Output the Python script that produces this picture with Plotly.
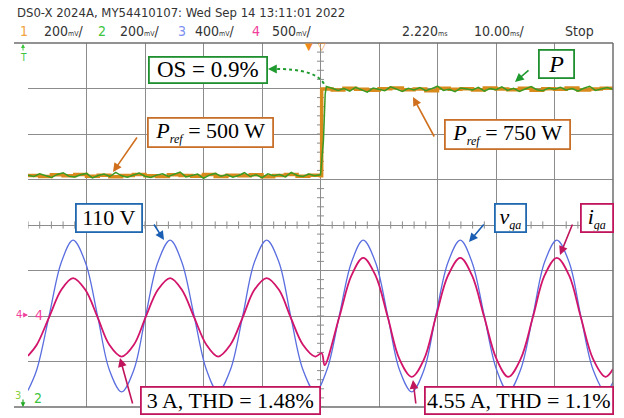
import plotly.graph_objects as go

# ---------------- data (scope capture, time in ms) ----------------
# reference power P_ref (W)
t_ref = [0, 2, 4, 6, 8, 10, 12, 14, 16, 18, 20, 22, 24, 26, 28, 30, 32, 34, 36, 38, 40, 42, 44, 46, 48, 50,
         50.2, 52, 54, 56, 58, 60, 62, 64, 66, 68, 70, 72, 74, 76, 78, 80, 82, 84, 86, 88, 90, 92, 94, 96, 98, 100]
p_ref = [500, 497, 502, 499, 503, 498, 501, 496, 500, 503, 499, 497, 502, 500, 498, 503, 497, 501, 499, 502, 496, 500, 503, 498, 501, 499,
         750, 747, 752, 749, 746, 751, 753, 748, 750, 745, 752, 749, 751, 747, 753, 750, 748, 752, 746, 751, 749, 753, 747, 750, 752, 749]

# measured power P (W)
t_meas = list(range(0, 51)) + [50.5, 50.8] + list(range(51, 101))
p_meas = [501, 497, 505, 499, 494, 503, 508, 498, 496, 502,
          506, 493, 500, 504, 497, 509, 499, 495, 502, 507,
          498, 494, 501, 505, 497, 503, 510, 496, 499, 504,
          492, 501, 506, 498, 503, 495, 500, 508, 497, 502,
          494, 505, 499, 503, 496, 509, 500, 497, 504, 499,
          502,
          600, 735,
          757, 752, 746, 751, 744, 755, 749, 741, 753, 748,
          745, 756, 750, 743, 752, 747, 754, 745, 751, 758,
          746, 749, 742, 753, 750, 747, 755, 744, 751, 748,
          756, 746, 752, 743, 750, 757, 748, 745, 753, 749,
          755, 747, 751, 744, 752, 758, 746, 750, 754, 749]

# grid voltage v_ga (V)
t_v = [0, 1.5, 3.6, 5.7, 7.7, 9.8, 11.9, 13.9, 16.0, 18.1, 20.1, 22.2, 24.3, 26.3, 28.4, 30.5, 32.5, 34.6,
       36.7, 38.7, 40.8, 42.9, 44.9, 47.0, 49.1, 51.1, 53.2, 55.3, 57.3, 59.4, 61.5, 63.5, 65.6, 67.7, 69.7,
       71.8, 73.9, 75.9, 78.0, 80.1, 82.1, 84.2, 86.3, 88.3, 90.4, 92.5, 94.5, 96.6, 98.7, 100]
v_ga = [-108, -78, 0, 78, 110, 78, 0, -78, -110, -78, 0, 78, 110, 78, 0, -78, -110, -78,
        0, 78, 110, 78, 0, -78, -110, -78, 0, 78, 110, 78, 0, -78, -110, -78, 0,
        78, 110, 78, 0, -78, -110, -78, 0, 78, 110, 78, 0, -78, -110, -96]

# grid current i_ga (A)
t_i = [0, 1.5, 3.6, 5.7, 7.7, 9.8, 11.9, 13.9, 16.0, 18.1, 20.1, 22.2, 24.3, 26.3, 28.4, 30.5, 32.5, 34.6,
       36.7, 38.7, 40.8, 42.9, 44.9, 47.0, 49.1, 50.2, 50.7, 53.2, 55.3, 57.3, 59.4, 61.5, 63.5, 65.6, 67.7, 69.7,
       71.8, 73.9, 75.9, 78.0, 80.1, 82.1, 84.2, 86.3, 88.3, 90.4, 92.5, 94.5, 96.6, 98.7, 100]
i_ga = [-2.95, -2.1, 0, 2.1, 3, 2.1, 0, -2.1, -3, -2.1, 0, 2.1, 3, 2.1, 0, -2.1, -3, -2.1,
        0, 2.1, 3, 2.1, 0, -2.1, -3, -2.75, -3.65, 0, 3.2, 4.55, 3.2, 0, -3.2, -4.55, -3.2, 0,
        3.2, 4.55, 3.2, 0, -3.2, -4.55, -3.2, 0, 3.2, 4.55, 3.2, 0, -3.2, -4.55, -3.95]

# ---------------- helpers ----------------
W, H = 624, 418
def px(x):
    return x / W
def py(y):
    return 1 - y / H

GRID = "#8c8c8c"
FRAME = "#6e6e6e"
C_ORANGE = "#d98a1c"
C_GREEN = "#3a9a22"
C_BLUE = "#5a6ee0"
C_PINK = "#d2146a"

fig = go.Figure()

fig.add_trace(go.Scatter(x=t_v, y=v_ga, yaxis="y3", mode="lines", line=dict(color=C_BLUE, width=1.3, shape="spline", smoothing=1.0), hoverinfo="skip"))
fig.add_trace(go.Scatter(x=t_i, y=i_ga, yaxis="y4", mode="lines", line=dict(color=C_PINK, width=1.8, shape="spline", smoothing=1.0), hoverinfo="skip"))
fig.add_trace(go.Scatter(x=t_ref, y=p_ref, yaxis="y2", mode="lines", line=dict(color=C_ORANGE, width=3.5, shape="hv"), hoverinfo="skip"))
fig.add_trace(go.Scatter(x=t_meas, y=p_meas, yaxis="y2", mode="lines", line=dict(color=C_GREEN, width=1.5), hoverinfo="skip"))

x_dom = [px(28), px(613)]
y_dom = [py(407), py(43)]

fig.update_layout(
    width=W, height=H,
    margin=dict(l=0, r=0, t=0, b=0),
    paper_bgcolor="white", plot_bgcolor="white",
    showlegend=False,
    xaxis=dict(domain=x_dom, range=[0, 100], dtick=10, tick0=0, showgrid=True, gridcolor=GRID, gridwidth=1,
               showticklabels=False, zeroline=False, showline=False, ticks=""),
    yaxis=dict(domain=y_dom, range=[-4, 4], dtick=1, tick0=0, showgrid=True, gridcolor=GRID, gridwidth=1,
               showticklabels=False, zeroline=False, showline=False, ticks=""),
    yaxis2=dict(overlaying="y", range=[-169.1, 882.9], visible=False),
    yaxis3=dict(overlaying="y", range=[-132, 396], visible=False),
    yaxis4=dict(overlaying="y", range=[-6.86, 20.98], visible=False),
)

shapes = []
# minor ticks on the centre graticule lines
for k in range(0, 51):
    shapes.append(dict(type="line", xref="x", yref="y", x0=k * 2, x1=k * 2, y0=-0.08, y1=0.08,
                       line=dict(color=GRID, width=1), layer="below"))
for k in range(-20, 21):
    shapes.append(dict(type="line", xref="x", yref="y", x0=49.4, x1=50.6, y0=k * 0.2, y1=k * 0.2,
                       line=dict(color=GRID, width=1), layer="below"))
# frame
for (x0, y0, x1, y1) in [(14, 43, 613, 43), (14, 407, 613, 407), (613, 43, 613, 407)]:
    shapes.append(dict(type="line", xref="paper", yref="paper", x0=px(x0), y0=py(y0), x1=px(x1), y1=py(y1),
                       line=dict(color=FRAME, width=1.5)))
# dotted overshoot leader
shapes.append(dict(type="path", xref="paper", yref="paper",
                   path=f"M {px(271)},{py(69)} Q {px(318)},{py(68)} {px(325)},{py(86)}",
                   line=dict(color="#1e9a2e", width=2, dash="dot")))
fig.update_layout(shapes=shapes)

ann = []
HDR_FONT = "Liberation Sans Narrow, DejaVu Sans Condensed, Arial Narrow, sans-serif"

def text(x, y, s, color="#333333", size=13, anchor="left", family=HDR_FONT):
    ann.append(dict(x=px(x), y=py(y), xref="paper", yref="paper", text=s, showarrow=False,
                    xanchor=anchor, yanchor="middle", font=dict(family=family, size=size, color=color)))

text(15, 12, "DS0-X 2024A, MY54410107: Wed Sep 14 13:11:01 2022", size=13)
unit_v = "<span style='font-size:7px'>mV</span>"
unit_s = "<span style='font-size:7px'>ms</span>"
text(18, 31, "1", color="#f2a444", size=14)
text(42, 31, "200" + unit_v + "/", size=14)
text(96, 31, "2", color="#3cc43c", size=14)
text(118, 31, "200" + unit_v + "/", size=14)
text(176, 31, "3", color="#7d90f0", size=14)
text(193, 31, "400" + unit_v + "/", size=14)
text(250, 31, "4", color="#f0409c", size=14)
text(270, 31, "500" + unit_v + "/", size=14)
text(400, 31, "2.220" + unit_s, size=14)
text(472, 31, "10.00" + unit_s + "/", size=14)
text(563, 31, "Stop", size=14)

# channel / trigger markers
text(23, 58, "T", color="#3cc43c", size=10, anchor="center")
ann.append(dict(x=px(23), y=py(44), xref="paper", yref="paper", ax=0, ay=8, axref="pixel", ayref="pixel",
                text="", showarrow=True, arrowhead=2, arrowsize=0.8, arrowwidth=1, arrowcolor="#3cc43c"))
text(309, 46, "▼", color="#f08a1a", size=10, anchor="center", family="DejaVu Sans")
text(322, 46, "▽", color="#f08a1a", size=10, anchor="center", family="DejaVu Sans")
text(14, 314, "4", color="#f0409c", size=11)
ann.append(dict(x=px(28), y=py(315), xref="paper", yref="paper", ax=-7, ay=0, axref="pixel", ayref="pixel",
                text="", showarrow=True, arrowhead=2, arrowsize=0.8, arrowwidth=1.2, arrowcolor="#f0409c"))
text(33, 315, "4", color="#f0409c", size=14)
text(13, 395, "3", color="#8ccf3c", size=11)
ann.append(dict(x=px(23), y=py(407), xref="paper", yref="paper", ax=0, ay=-9, axref="pixel", ayref="pixel",
                text="", showarrow=True, arrowhead=2, arrowsize=0.8, arrowwidth=1.2, arrowcolor="#22a822"))
text(32, 398, "2", color="#3cc43c", size=14)

# labelled boxes
SERIF = "Liberation Serif, Times New Roman, serif"
def box(x0, x1, y0, y1, s, color, size=22):
    ann.append(dict(x=px((x0 + x1) / 2), y=py((y0 + y1) / 2), xref="paper", yref="paper", text=s,
                    showarrow=False, xanchor="center", yanchor="middle",
                    width=x1 - x0 - 3, height=y1 - y0 - 3, borderpad=0,
                    bordercolor=color, borderwidth=1.8, bgcolor="white",
                    font=dict(family=SERIF, size=size, color="black")))

def arrow(xt, yt, xh, yh, color):
    ann.append(dict(x=px(xh), y=py(yh), xref="paper", yref="paper", ax=xt - xh, ay=yt - yh,
                    axref="pixel", ayref="pixel", text="", showarrow=True, arrowhead=2,
                    arrowsize=1.1, arrowwidth=1.6, arrowcolor=color))

B_GREEN = "#1f8f2f"
B_ORANGE = "#c8702a"
B_BLUE = "#2068b0"
B_RED = "#c0155c"
SUB = "<sub><i><span style='font-size:12px'>%s</span></i></sub>"

box(148, 267, 56, 83, "OS = 0.9%", B_GREEN, size=23)
box(147, 273, 117, 147, "<i>P</i>" + SUB % "ref" + " = 500 W", B_ORANGE)
box(538, 574, 50, 79, "<i>P</i>", B_GREEN, size=24)
box(444, 570, 119, 149, "<i>P</i>" + SUB % "ref" + " = 750 W", B_ORANGE)
box(76, 143, 203, 232, "110 V", B_BLUE)
box(494, 526, 203, 232, "<i>v</i>" + SUB % "ga", B_BLUE)
box(580, 613, 203, 232, "<i>i</i>" + SUB % "ga", B_RED)
box(140, 320, 386, 414, "3 A, THD = 1.48%", B_RED)
box(424, 613, 386, 414, "4.55 A, THD = 1.1%", B_RED)

arrow(138, 136, 113, 172, "#d0701e")
arrow(530, 69, 515, 82, "#1e9a2e")
arrow(435, 138, 413, 97, "#d0701e")
arrow(153, 223, 164, 240, "#1a5fb4")
arrow(485, 223, 469, 242, "#1a5fb4")
arrow(573, 223, 560, 255, B_RED)
arrow(133, 405, 120, 358, B_RED)
arrow(416, 405, 413, 380, B_RED)
arrow(276, 69, 268, 69, "#1e9a2e")

fig.update_layout(annotations=ann)
fig.write_html("out.html")
